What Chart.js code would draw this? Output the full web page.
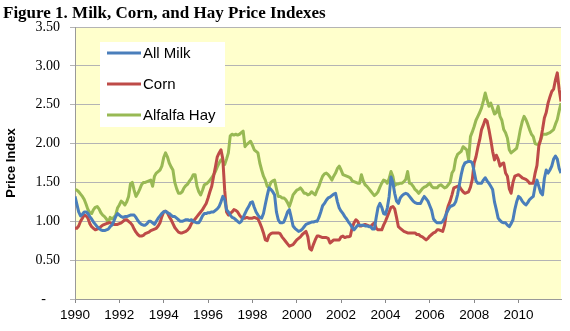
<!DOCTYPE html>
<html>
<head>
<meta charset="utf-8">
<script src="https://cdn.jsdelivr.net/npm/chart.js@4.4.0/dist/chart.umd.min.js"></script>
<style>
html,body{margin:0;padding:0;background:#fff;}
canvas{display:block;}
</style>
</head>
<body>
<canvas id="c" width="570" height="331"></canvas>
<script>
const titleText = "Figure 1. Milk, Corn, and Hay Price Indexes";
const yAxisTitle = "Price Index";
const seriesNames = ["All Milk", "Corn", "Alfalfa Hay"];
const startYear = 1990;           // monthly data, Jan 1990 - Dec 2011
const endYear = 2011;
const yTicks = [0, 0.5, 1.0, 1.5, 2.0, 2.5, 3.0, 3.5];
const xTickYears = [1990, 1992, 1994, 1996, 1998, 2000, 2002, 2004, 2006, 2008, 2010];

const allMilk = [
 1.32,1.22,1.12,1.07,1.09,1.12,1.12,1.10,1.06,1.03,0.99,0.96,
 0.93,0.91,0.89,0.88,0.88,0.89,0.90,0.93,0.95,1.00,1.06,1.10,
 1.08,1.06,1.05,1.06,1.06,1.07,1.08,1.08,1.08,1.05,1.01,0.98,
 0.96,0.95,0.95,0.97,1.00,1.00,0.98,0.96,1.00,1.04,1.07,1.10,
 1.12,1.13,1.11,1.10,1.08,1.06,1.06,1.04,1.02,1.00,1.00,1.01,
 1.02,1.02,1.01,1.02,1.00,0.99,0.98,0.98,1.02,1.07,1.10,1.10,
 1.11,1.11,1.12,1.12,1.14,1.16,1.19,1.25,1.32,1.28,1.15,1.12,
 1.08,1.05,1.04,1.02,1.00,0.98,1.00,1.05,1.10,1.15,1.19,1.24,
 1.25,1.18,1.12,1.08,1.05,1.04,1.10,1.22,1.33,1.43,1.41,1.38,
 1.34,1.12,1.02,0.98,0.98,0.99,1.05,1.12,1.15,1.05,0.94,0.91,
 0.89,0.87,0.88,0.90,0.93,0.96,0.97,0.98,0.99,0.99,1.00,1.00,
 1.05,1.12,1.20,1.23,1.27,1.30,1.31,1.33,1.35,1.36,1.25,1.17,
 1.13,1.10,1.06,1.03,0.99,0.96,0.92,0.89,0.92,0.95,0.95,0.95,
 0.95,0.94,0.94,0.93,0.93,0.90,0.90,1.05,1.18,1.23,1.18,1.10,
 1.09,1.17,1.32,1.57,1.50,1.36,1.26,1.23,1.30,1.33,1.35,1.36,
 1.35,1.32,1.29,1.26,1.24,1.23,1.23,1.23,1.28,1.32,1.29,1.26,
 1.20,1.14,1.03,1.00,0.98,0.98,0.98,1.00,1.04,1.10,1.15,1.19,
 1.20,1.21,1.25,1.34,1.47,1.60,1.70,1.75,1.76,1.77,1.77,1.75,
 1.64,1.52,1.49,1.49,1.49,1.53,1.56,1.52,1.49,1.45,1.41,1.25,
 1.15,1.04,1.01,0.99,0.98,0.98,0.95,0.93,0.97,1.02,1.15,1.25,
 1.32,1.30,1.26,1.23,1.21,1.24,1.28,1.30,1.32,1.45,1.53,1.45,
 1.37,1.34,1.55,1.66,1.62,1.66,1.71,1.80,1.84,1.80,1.68,1.62
];

const corn = [
 0.91,0.91,0.94,1.00,1.04,1.08,1.07,1.04,0.97,0.93,0.91,0.89,
 0.90,0.91,0.93,0.95,0.96,0.97,0.98,0.98,0.97,0.96,0.96,0.96,
 0.97,0.98,1.00,1.02,1.02,1.00,0.98,0.95,0.90,0.86,0.83,0.81,
 0.81,0.82,0.84,0.85,0.86,0.88,0.89,0.90,0.91,0.94,0.98,1.06,
 1.12,1.13,1.11,1.06,1.02,0.97,0.92,0.89,0.86,0.85,0.85,0.86,
 0.87,0.89,0.92,0.97,1.00,1.03,1.06,1.09,1.12,1.15,1.19,1.23,
 1.30,1.38,1.45,1.58,1.70,1.83,1.88,1.92,1.80,1.40,1.12,1.08,
 1.10,1.12,1.15,1.14,1.12,1.08,1.05,1.04,1.04,1.05,1.04,1.04,
 1.04,1.05,1.04,1.03,0.98,0.92,0.85,0.76,0.75,0.82,0.84,0.85,
 0.85,0.85,0.85,0.84,0.80,0.77,0.74,0.71,0.68,0.69,0.70,0.73,
 0.76,0.78,0.80,0.83,0.85,0.87,0.80,0.65,0.63,0.70,0.76,0.81,
 0.81,0.80,0.79,0.79,0.79,0.78,0.72,0.74,0.76,0.76,0.76,0.76,
 0.80,0.81,0.79,0.80,0.80,0.81,0.92,0.98,1.02,1.00,0.94,0.94,
 0.95,0.96,0.95,0.94,0.93,0.96,0.98,0.91,0.89,0.89,0.89,0.95,
 1.00,1.06,1.12,1.18,1.19,1.16,1.05,0.93,0.91,0.89,0.87,0.86,
 0.85,0.85,0.85,0.85,0.85,0.83,0.83,0.81,0.80,0.78,0.76,0.78,
 0.81,0.83,0.85,0.86,0.89,0.89,0.88,0.87,0.95,1.11,1.20,1.26,
 1.34,1.43,1.44,1.45,1.45,1.41,1.38,1.36,1.37,1.38,1.44,1.54,
 1.75,1.83,1.95,2.05,2.18,2.24,2.31,2.29,2.18,2.05,1.90,1.79,
 1.85,1.80,1.71,1.74,1.75,1.62,1.58,1.42,1.36,1.50,1.58,1.59,
 1.60,1.58,1.56,1.55,1.54,1.52,1.49,1.49,1.49,1.62,1.72,1.97,
 2.05,2.18,2.33,2.40,2.52,2.60,2.67,2.70,2.82,2.91,2.70,2.54
];

const alfalfaHay = [
 1.41,1.40,1.38,1.35,1.32,1.28,1.22,1.15,1.11,1.10,1.15,1.18,
 1.19,1.16,1.11,1.08,1.06,1.03,0.98,1.05,1.03,1.05,1.08,1.17,
 1.21,1.26,1.24,1.21,1.25,1.32,1.48,1.50,1.40,1.32,1.36,1.41,
 1.47,1.50,1.50,1.51,1.52,1.53,1.45,1.58,1.62,1.64,1.66,1.71,
 1.82,1.88,1.83,1.75,1.70,1.66,1.50,1.42,1.36,1.36,1.38,1.43,
 1.46,1.48,1.52,1.55,1.60,1.60,1.45,1.38,1.34,1.40,1.47,1.48,
 1.50,1.53,1.56,1.60,1.64,1.70,1.75,1.79,1.77,1.73,1.80,1.88,
 2.10,2.12,2.11,2.12,2.11,2.12,2.14,2.16,1.96,1.99,2.01,2.03,
 1.98,1.92,1.90,1.88,1.75,1.66,1.58,1.53,1.45,1.44,1.50,1.52,
 1.53,1.42,1.32,1.32,1.30,1.30,1.28,1.24,1.19,1.26,1.34,1.37,
 1.40,1.41,1.43,1.40,1.36,1.36,1.34,1.35,1.38,1.36,1.34,1.40,
 1.45,1.52,1.58,1.61,1.62,1.60,1.57,1.53,1.58,1.62,1.68,1.71,
 1.66,1.60,1.59,1.58,1.57,1.56,1.52,1.51,1.50,1.49,1.49,1.60,
 1.52,1.47,1.45,1.42,1.39,1.36,1.33,1.35,1.38,1.44,1.49,1.53,
 1.52,1.49,1.55,1.64,1.58,1.46,1.48,1.48,1.49,1.49,1.51,1.54,
 1.64,1.49,1.48,1.45,1.41,1.39,1.36,1.39,1.42,1.44,1.45,1.47,
 1.49,1.45,1.43,1.43,1.43,1.46,1.47,1.45,1.43,1.44,1.47,1.50,
 1.62,1.66,1.80,1.86,1.88,1.90,1.96,1.94,1.92,1.79,2.09,2.15,
 2.22,2.30,2.35,2.40,2.46,2.55,2.65,2.56,2.48,2.52,2.45,2.38,
 2.40,2.48,2.35,2.30,2.18,2.14,2.07,1.92,1.88,1.90,1.92,1.94,
 2.05,2.18,2.28,2.35,2.31,2.25,2.18,2.12,2.09,2.00,1.99,1.99,
 2.05,2.12,2.12,2.12,2.13,2.14,2.16,2.18,2.25,2.31,2.42,2.52
];

const colors = ["#4a7ebb", "#be4b48", "#98b954"];
const seriesValues = [allMilk, corn, alfalfaHay];

function toPoints(arr) {
  return arr.map((v, i) => ({ x: startYear + i / 12, y: v }));
}

const bgPlugin = {
  id: 'bg',
  beforeDraw(chart) {
    const { ctx, chartArea: a } = chart;
    ctx.save();
    ctx.fillStyle = '#ffffcc';
    ctx.fillRect(a.left, a.top, a.right - a.left, a.bottom - a.top);
    ctx.restore();
  },
  afterDraw(chart) {
    const ctx = chart.ctx;
    ctx.save();
    ctx.fillStyle = '#000';
    ctx.font = 'bold 17px "Liberation Serif", "Times New Roman", serif';
    ctx.textBaseline = 'alphabetic';
    ctx.textAlign = 'left';
    ctx.fillText(titleText, 3, 18);
    ctx.restore();
  }
};

const legendPlugin = {
  id: 'boxLegend',
  afterDatasetsDraw(chart) {
    const ctx = chart.ctx;
    ctx.save();
    ctx.fillStyle = '#ffffff';
    ctx.fillRect(100, 42, 125, 85);
    const ys = [53, 84, 115];
    chart.data.datasets.forEach((ds, i) => {
      ctx.strokeStyle = ds.borderColor;
      ctx.lineWidth = 3;
      ctx.beginPath();
      ctx.moveTo(107, ys[i]);
      ctx.lineTo(141, ys[i]);
      ctx.stroke();
      ctx.fillStyle = '#000';
      ctx.font = '15px "Liberation Sans", Arial, sans-serif';
      ctx.textBaseline = 'middle';
      ctx.textAlign = 'left';
      ctx.fillText(ds.label, 143, ys[i] + 1);
    });
    ctx.restore();
  }
};

new Chart(document.getElementById('c'), {
  type: 'line',
  data: {
    datasets: seriesNames.map((name, i) => ({
      label: name,
      data: toPoints(seriesValues[i]),
      borderColor: colors[i],
      backgroundColor: colors[i],
      borderWidth: 3,
      pointRadius: 0,
      tension: 0,
      fill: false,
      borderJoinStyle: 'round'
    }))
  },
  options: {
    responsive: false,
    animation: false,
    devicePixelRatio: 1,
    layout: { padding: { top: 27, right: 9, left: 0, bottom: 0 } },
    plugins: { legend: { display: false }, tooltip: { enabled: false }, title: { display: false } },
    scales: {
      x: {
        type: 'linear',
        min: startYear,
        max: startYear + (seriesValues[0].length - 1) / 12,
        afterFit(s) { s.height = 32; },
        afterBuildTicks(s) { s.ticks = xTickYears.map(v => ({ value: v })); },
        ticks: {
          includeBounds: false,
          stepSize: 2,
          autoSkip: false,
          maxRotation: 0,
          padding: 4,
          color: '#000',
          font: { family: '"Liberation Sans", Arial, sans-serif', size: 13.5 },
          callback: v => String(v)
        },
        grid: { drawOnChartArea: false, drawTicks: true, tickLength: 4, color: '#888' },
        border: { color: '#999', width: 1 }
      },
      y: {
        min: 0,
        max: 3.5,
        afterFit(s) { s.width = 75; },
        afterBuildTicks(s) { s.ticks = yTicks.map(v => ({ value: v })); },
        ticks: {
          padding: 10,
          color: '#000',
          font: { family: '"Liberation Serif", "Times New Roman", serif', size: 14 },
          callback: v => v === 0 ? '-    ' : v.toFixed(2)
        },
        grid: { color: '#b4b4b4', lineWidth: 1, drawTicks: true, tickLength: 5 },
        border: { color: '#999', width: 1 },
        title: {
          display: true,
          text: yAxisTitle,
          color: '#000',
          font: { family: '"Liberation Sans", Arial, sans-serif', size: 13, weight: 'bold' },
          padding: { top: 4, bottom: 0 }
        }
      }
    }
  },
  plugins: [bgPlugin, legendPlugin]
});
</script>
</body>
</html>
